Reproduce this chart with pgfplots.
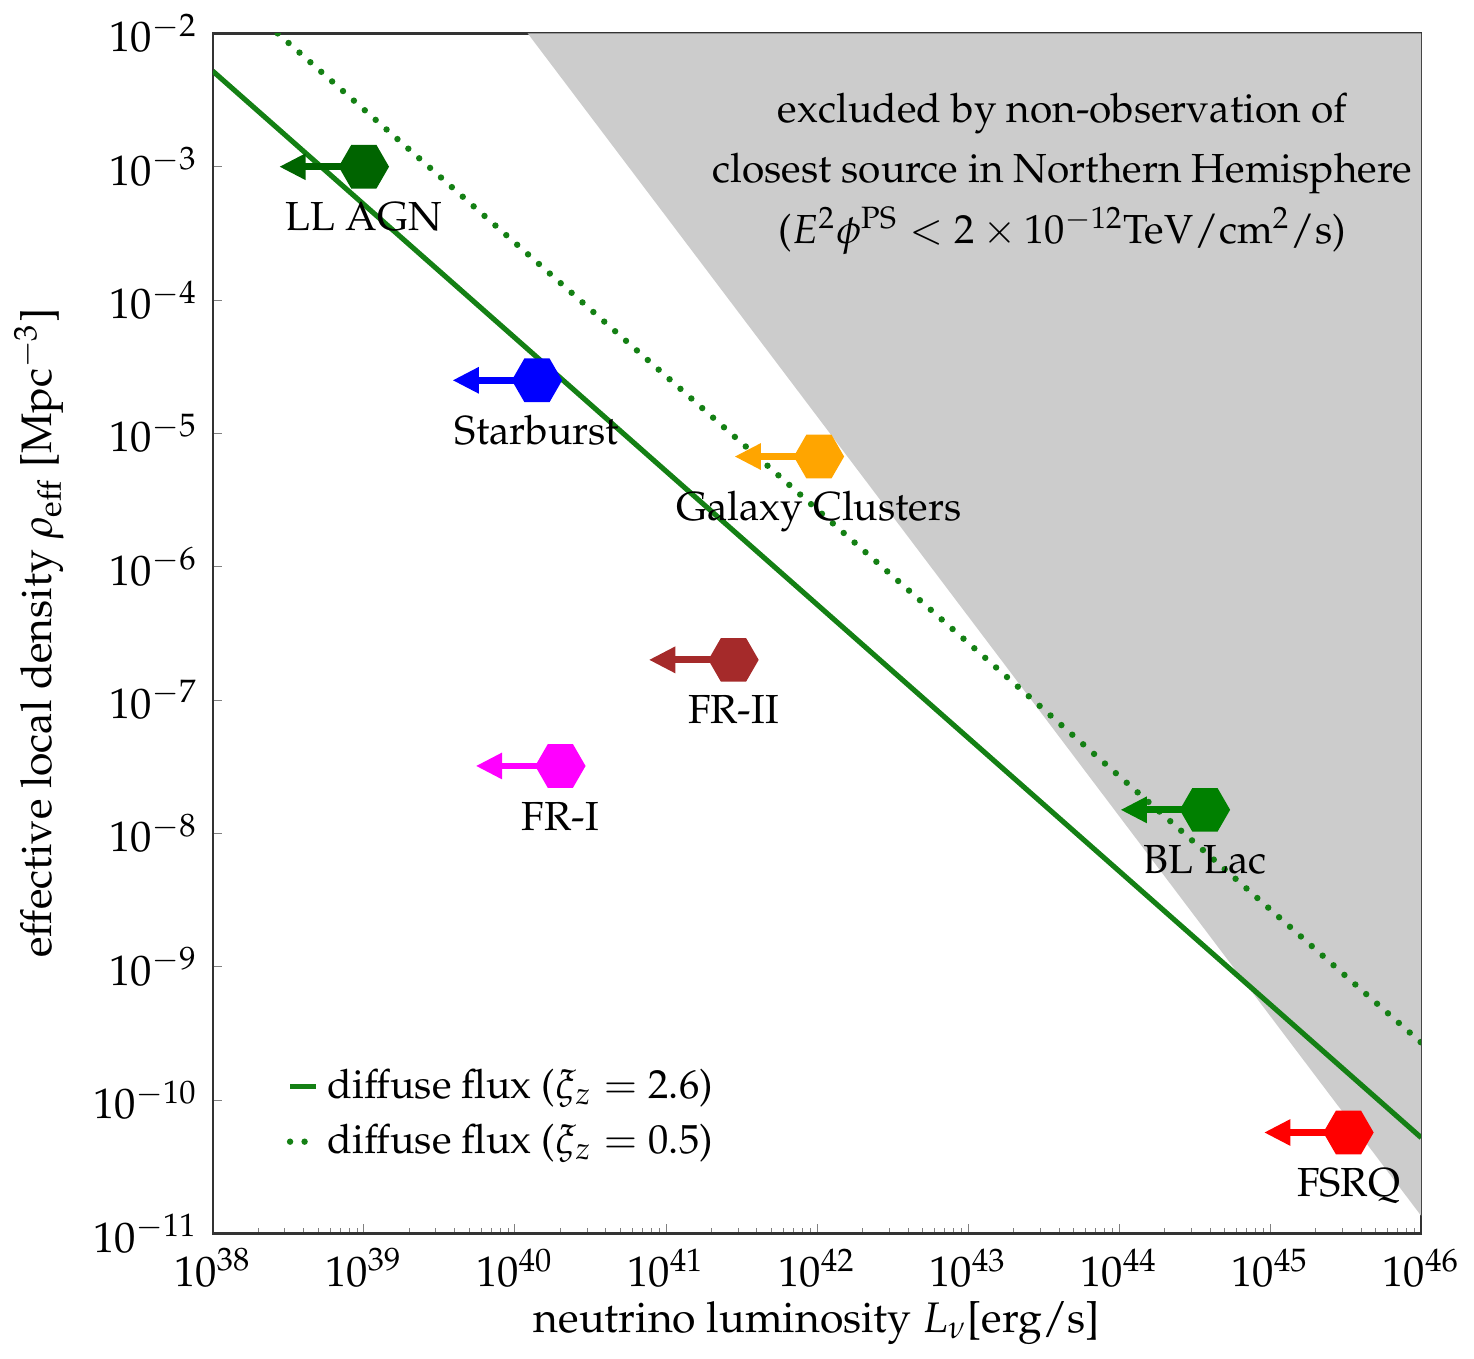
\documentclass[border=0pt]{standalone}
\usepackage[T1]{fontenc}
\usepackage{mathpazo}
\usepackage{pgfplots}
\pgfplotsset{compat=1.18}
\usetikzlibrary{arrows.meta}
\definecolor{dgreen}{RGB}{0,100,0}
\definecolor{mgreen}{RGB}{0,128,0}
\definecolor{lineg}{RGB}{20,128,20}
\definecolor{orng}{RGB}{255,165,0}
\definecolor{brwn}{RGB}{165,42,42}
\definecolor{mgnt}{RGB}{255,0,255}
\definecolor{rred}{RGB}{255,0,0}
\definecolor{bblue}{RGB}{0,0,255}
\definecolor{shade}{RGB}{204,204,204}
\pgfdeclareplotmark{hexagon}{%
  \pgfpathmoveto{\pgfpointpolar{0}{\pgfplotmarksize}}%
  \pgfpathlineto{\pgfpointpolar{60}{\pgfplotmarksize}}%
  \pgfpathlineto{\pgfpointpolar{120}{\pgfplotmarksize}}%
  \pgfpathlineto{\pgfpointpolar{180}{\pgfplotmarksize}}%
  \pgfpathlineto{\pgfpointpolar{240}{\pgfplotmarksize}}%
  \pgfpathlineto{\pgfpointpolar{300}{\pgfplotmarksize}}%
  \pgfpathclose
  \pgfusepathqfill}
\pgfplotsset{arr/.style={line width=1.6pt,-{Triangle[length=6.2pt,width=5.8pt]},forget plot},
  hex/.style={only marks,mark=hexagon,mark size=5.9pt,forget plot}}
\tikzset{lab/.style={anchor=base,yshift=-15pt,font=\fontsize{9.5}{11}\selectfont}}
\begin{document}
\begin{tikzpicture}
\begin{axis}[
  scale only axis,
  width=283pt, height=281pt,
  xmode=log, ymode=log,
  xmin=1e38, xmax=1e46, ymin=1e-11, ymax=1e-2,
  xtick={1e38,1e39,1e40,1e41,1e42,1e43,1e44,1e45,1e46},
  ytick={1e-11,1e-10,1e-9,1e-8,1e-7,1e-6,1e-5,1e-4,1e-3,1e-2},
  minor xtick={2e38,3e38,4e38,5e38,6e38,7e38,8e38,9e38,
               2e39,3e39,4e39,5e39,6e39,7e39,8e39,9e39,
               2e40,3e40,4e40,5e40,6e40,7e40,8e40,9e40,
               2e41,3e41,4e41,5e41,6e41,7e41,8e41,9e41,
               2e42,3e42,4e42,5e42,6e42,7e42,8e42,9e42,
               2e43,3e43,4e43,5e43,6e43,7e43,8e43,9e43,
               2e44,3e44,4e44,5e44,6e44,7e44,8e44,9e44,
               2e45,3e45,4e45,5e45,6e45,7e45,8e45,9e45},
  yminorticks=false,
  xtick pos=bottom, ytick pos=left,
  tick align=inside,
  major tick length=2.2pt, minor tick length=1.3pt,
  axis line style={line width=0.6pt, black!80},
  xlabel={neutrino luminosity $L_\nu$[erg/s]},
  xlabel style={yshift=3.5pt},
  ylabel={effective local density $\rho_{\mathrm{eff}}$ [Mpc$^{-3}$]},
  legend cell align=left,
  legend style={draw=none, fill=none, at={(0.05,0.152)}, anchor=north west,
    row sep=0.5pt, font=\fontsize{9.5}{11}\selectfont},
  legend image code/.code={\draw[#1] (0pt,0pt) -- (6pt,0pt);},
]
\addplot[fill=shade, draw=none, forget plot] coordinates {(1.216e40,1e-2) (1e46,1.35e-11) (1e46,1e-2)} -- cycle;
\addplot[lineg, line width=1.2pt] coordinates {(1e38,5.21e-3) (1e46,5.21e-11)};
\addlegendentry{diffuse flux ($\xi_z = 2.6$)}
\addplot[lineg, line width=1.5pt, line cap=round, dash pattern=on 0pt off 3.4pt] coordinates {(2.69e38,1e-2) (1e46,2.69e-10)};
\addlegendentry{diffuse flux ($\xi_z = 0.5$)}
% arrows (upper limits)
\addplot[arr, dgreen] coordinates {(1e39,1e-3) (2.75e38,1e-3)};
\addplot[arr, bblue] coordinates {(1.4e40,2.5e-5) (3.86e39,2.5e-5)};
\addplot[arr, orng] coordinates {(1.03e42,6.7e-6) (2.84e41,6.7e-6)};
\addplot[arr, brwn] coordinates {(2.8e41,2e-7) (7.7e40,2e-7)};
\addplot[arr, mgnt] coordinates {(2e40,3.2e-8) (5.5e39,3.2e-8)};
\addplot[arr, mgreen] coordinates {(3.7e44,1.5e-8) (1.02e44,1.5e-8)};
\addplot[arr, rred] coordinates {(3.3e45,5.7e-11) (9.1e44,5.7e-11)};
% hexagons
\addplot[hex, dgreen] coordinates {(1e39,1e-3)};
\addplot[hex, bblue] coordinates {(1.4e40,2.5e-5)};
\addplot[hex, orng] coordinates {(1.03e42,6.7e-6)};
\addplot[hex, brwn] coordinates {(2.8e41,2e-7)};
\addplot[hex, mgnt] coordinates {(2e40,3.2e-8)};
\addplot[hex, mgreen] coordinates {(3.7e44,1.5e-8)};
\addplot[hex, rred] coordinates {(3.3e45,5.7e-11)};
% labels
\node[lab] at (axis cs:1e39,1e-3) {LL AGN};
\node[lab] at (axis cs:1.4e40,2.5e-5) {Starburst};
\node[lab] at (axis cs:1.03e42,6.7e-6) {Galaxy Clusters};
\node[lab] at (axis cs:2.8e41,2e-7) {FR-II};
\node[lab] at (axis cs:2e40,3.2e-8) {FR-I};
\node[lab] at (axis cs:3.7e44,1.5e-8) {BL Lac};
\node[lab] at (axis cs:3.3e45,5.7e-11) {FSRQ};
\node[anchor=north, align=center, font=\fontsize{9.5}{14.2}\selectfont] at (rel axis cs:0.703,0.963)
  {excluded by non-observation of\\closest source in Northern Hemisphere\\($E^2\phi^{\mathrm{PS}} < 2\times 10^{-12}$TeV$/$cm$^2$/s)};
\end{axis}
\end{tikzpicture}
\end{document}
